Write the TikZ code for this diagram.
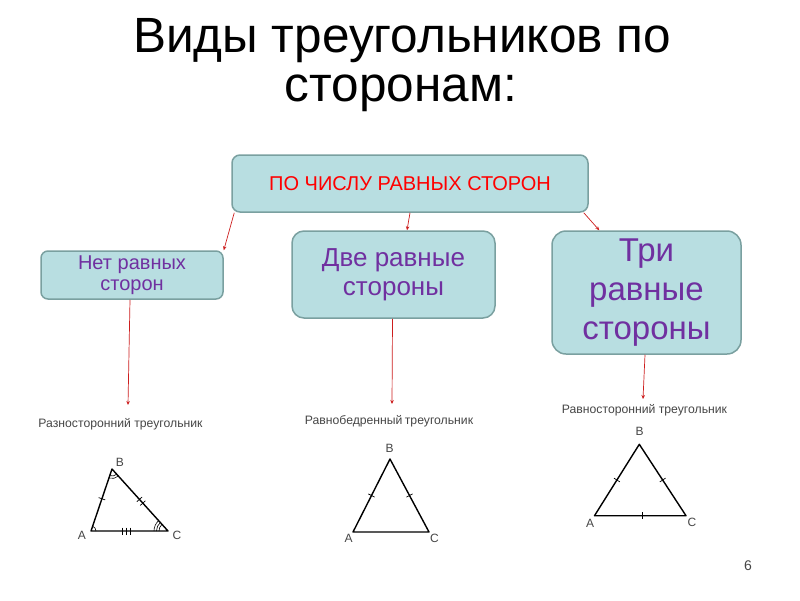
\documentclass[tikz,border=0pt]{standalone}
\usepackage{fontspec}
\setmainfont{Liberation Sans}
\usetikzlibrary{arrows.meta,calc,angles}
\definecolor{boxfill}{RGB}{184,222,225}
\definecolor{boxline}{RGB}{122,160,160}
\definecolor{txtpurple}{RGB}{112,48,160}
\definecolor{conred}{RGB}{205,30,30}
\definecolor{lblgray}{RGB}{70,70,70}
\tikzset{
  boxstyle/.style={draw=boxline, line width=1.5pt, fill=boxfill, align=center, inner sep=0pt},
  conn/.style={draw=conred, line width=0.7pt, -{Stealth[length=4pt,width=3.5pt]}},
  lbl/.style={text=lblgray, font=\fontsize{12.2}{14}\selectfont, anchor=base, inner sep=0pt},
  vlbl/.style={text=lblgray, font=\fontsize{12}{14}\selectfont, inner sep=0pt},
  tri/.style={draw=black, line width=1.4pt, line join=round},
  tick/.style={draw=black, line width=0.7pt},
  ang/.style={draw=black, line width=0.6pt}
}
\newcommand{\tk}[3]{\draw[tick] ($(#1)!#3!(#2)!3.5pt!90:(#2)$) -- ($(#1)!#3!(#2)!3.5pt!-90:(#2)$);}
\begin{document}
\begin{tikzpicture}[x=1pt,y=-1pt]
\useasboundingbox (0,0) rectangle (800,600);
\fill[white] (0,0) rectangle (800,600);
% title
\node[anchor=base, font=\fontsize{49.5}{52}\selectfont] (t1) at (402,52) {Виды треугольников по};
\node[anchor=base, font=\fontsize{49.5}{52}\selectfont] (t2) at (401,101.5) {сторонам:};
% boxes
\node[boxstyle, rounded corners=8pt, minimum width=356pt, minimum height=57pt,
      text=red, font=\fontsize{20}{22}\selectfont] (top) at (410,183.5) {ПО ЧИСЛУ РАВНЫХ СТОРОН};
\node[boxstyle, rounded corners=7pt, minimum width=182pt, minimum height=48pt,
      text=txtpurple, font=\fontsize{20}{21.5}\selectfont] (b1) at (132,275) {Нет равных\\сторон};
\node[boxstyle, rounded corners=12pt, minimum width=203pt, minimum height=87pt,
      text=txtpurple, font=\fontsize{26}{29.5}\selectfont] (b2) at (393.5,274.5) {Две равные\\стороны};
\node[boxstyle, rounded corners=14pt, minimum width=189pt, minimum height=123pt,
      text=txtpurple, font=\fontsize{33}{39}\selectfont] (b3) at (646.5,292.5) {Три\\равные\\стороны};
% connectors from top box
\draw[conn] ([xshift=3pt]top.south west) -- (b1.north east);
\draw[conn] (top.south) -- ([xshift=13.5pt]b2.north);
\draw[conn] ([xshift=-5pt]top.south east) -- ([xshift=48pt]b3.north west);
% labels
\node[lbl] (l1) at (120.5,427) {Разносторонний треугольник};
\node[lbl] (l2) at (389,424) {Равнобедренный\kern-1pt\ треугольник};
\node[lbl] (l3) at (644.5,413.5) {Равносторонний треугольник};
\coordinate (e1) at (128,405);
\coordinate (e2) at (392,404);
\coordinate (e3) at (643,399);
\draw[conn] ([xshift=-2pt]b1.south) -- (e1);
\draw[conn] ([xshift=-1pt]b2.south) -- (e2);
\draw[conn] ([xshift=-1.5pt]b3.south) -- (e3);
% triangle 1 (scalene)
\coordinate (A1) at (91,531);
\coordinate (B1) at (112,469);
\coordinate (C1) at (168,531);
\draw[tri] (A1) -- (B1) -- (C1) -- cycle;
\tk{A1}{B1}{0.52}
\tk{B1}{C1}{0.49}
\tk{B1}{C1}{0.55}
\tk{A1}{C1}{0.41}
\tk{A1}{C1}{0.46}
\tk{A1}{C1}{0.51}
\pic[ang, angle radius=5pt] {angle=C1--A1--B1};
\pic[ang, angle radius=7pt] {angle=A1--B1--C1};
\pic[ang, angle radius=9.5pt] {angle=A1--B1--C1};
\pic[ang, angle radius=9pt] {angle=B1--C1--A1};
\pic[ang, angle radius=11.5pt] {angle=B1--C1--A1};
\pic[ang, angle radius=14pt] {angle=B1--C1--A1};
\node[vlbl] (vA1) at (82,535) {A};
\node[vlbl] (vB1) at (120,462) {B};
\node[vlbl] (vC1) at (177,535.5) {C};
% triangle 2 (isosceles)
\coordinate (A2) at (353,532);
\coordinate (B2) at (390,459);
\coordinate (C2) at (429,532);
\draw[tri] (A2) -- (B2) -- (C2) -- cycle;
\tk{A2}{B2}{0.5}
\tk{C2}{B2}{0.5}
\node[vlbl] (vA2) at (348.5,538.5) {A};
\node[vlbl] (vB2) at (389.5,448.5) {B};
\node[vlbl] (vC2) at (434.5,538.5) {C};
% triangle 3 (equilateral)
\coordinate (A3) at (594.5,515.7);
\coordinate (B3) at (639.3,444.3);
\coordinate (C3) at (686,515.7);
\draw[tri] (A3) -- (B3) -- (C3) -- cycle;
\tk{A3}{B3}{0.5}
\tk{C3}{B3}{0.5}
\tk{A3}{C3}{0.52}
\node[vlbl] (vA3) at (590,523.5) {A};
\node[vlbl] (vB3) at (639.5,431.5) {B};
\node[vlbl] (vC3) at (692,522) {C};
% page number
\node[text=lblgray, font=\fontsize{14}{16}\selectfont] (pn) at (748,566) {6};
\end{tikzpicture}
\end{document}
